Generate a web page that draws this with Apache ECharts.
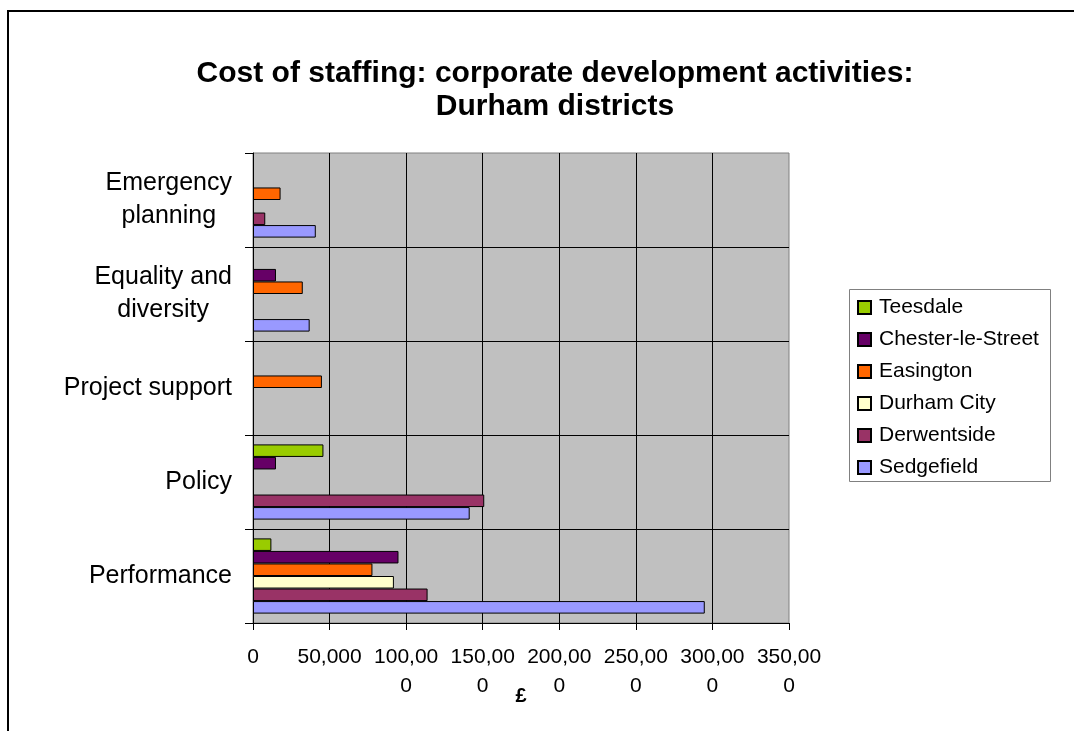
<!DOCTYPE html>
<html>
<head>
<meta charset="utf-8">
<title>Cost of staffing: corporate development activities</title>
<script src="https://cdn.jsdelivr.net/npm/echarts@6/dist/echarts.min.js"></script>
<style>
  html, body { margin: 0; padding: 0; background: #ffffff; }
  #chart { width: 1074px; height: 731px; }
</style>
</head>
<body>
<div id="chart"></div>
<script>
// Activities, listed from the bottom of the axis upwards
const categories = ['Performance', 'Policy', 'Project support', 'Equality and diversity', 'Emergency planning'];
const categoryLabels = ['Performance', 'Policy', 'Project support', 'Equality and\ndiversity', 'Emergency\nplanning'];

// Staffing cost (£) per district; null = no spend reported
const districts = ['Teesdale', 'Chester-le-Street', 'Easington', 'Durham City', 'Derwentside', 'Sedgefield'];
const teesdale        = [12000, 46000, null, null, null];
const chesterLeStreet = [95000, 15000, null, 15000, null];
const easington       = [78000, null, 45000, 32500, 18000];
const durhamCity      = [92000, null, null, null, null];
const derwentside     = [114000, 151000, null, null, 8000];
const sedgefield      = [295000, 141500, null, 37000, 41000];

const xTickLabels = ['0', '50,000', '100,000', '150,000', '200,000', '250,000', '300,000', '350,000'];

const districtColors = ['#99CC00', '#660066', '#FF6600', '#FFFFCC', '#993366', '#9999FF'];
const districtValues = [teesdale, chesterLeStreet, easington, durhamCity, derwentside, sedgefield];

const FONT = '"Liberation Sans", Arial, sans-serif';

// long tick labels wrap after six characters
function wrapTick(s) {
  return s.length > 6 ? s.slice(0, 6) + '\n' + s.slice(6) : s;
}

const chart = echarts.init(document.getElementById('chart'), null, { renderer: 'canvas' });

const series = districts.map((name, i) => ({
  name: name,
  type: 'bar',
  data: districtValues[i],
  barGap: '0%',
  barCategoryGap: '20%',
  itemStyle: { color: districtColors[i], borderColor: '#000000', borderWidth: 1 },
  emphasis: { disabled: true },
  animation: false
}));

chart.setOption({
  animation: false,
  backgroundColor: '#ffffff',
  textStyle: { fontFamily: FONT },
  title: {
    text: 'Cost of staffing: corporate development activities:\nDurham districts',
    left: 550,
    top: 52,
    textAlign: 'center',
    textStyle: { fontFamily: FONT, fontSize: 30, fontWeight: 'bold', color: '#000000', lineHeight: 33 }
  },
  graphic: [
    {
      type: 'rect', silent: true, z: -10,
      shape: { x: 8, y: 11, width: 1100, height: 800 },
      style: { fill: 'none', stroke: '#000000', lineWidth: 2 }
    },
    {
      type: 'rect', silent: true, z: -10,
      shape: { x: 849.5, y: 289.5, width: 201, height: 192 },
      style: { fill: '#ffffff', stroke: '#808080', lineWidth: 1 }
    }
  ],
  legend: {
    orient: 'vertical',
    left: 857,
    top: 297,
    padding: 0,
    itemGap: 11,
    itemWidth: 13,
    itemHeight: 13,
    icon: 'rect',
    selectedMode: false,
    data: districts,
    textStyle: { fontFamily: FONT, fontSize: 21, color: '#000000', lineHeight: 21, padding: [0, 0, 0, 3] }
  },
  grid: {
    left: 253,
    right: 285,
    top: 153,
    bottom: 108,
    show: true,
    backgroundColor: '#C0C0C0',
    borderColor: '#808080',
    borderWidth: 1,
    containLabel: false
  },
  xAxis: {
    type: 'value',
    min: 0,
    max: 350000,
    interval: 50000,
    name: '£',
    nameLocation: 'middle',
    nameGap: 63,
    nameMoveOverlap: false,
    nameTextStyle: { fontFamily: FONT, fontSize: 20, fontWeight: 'bold', color: '#000000' },
    axisLine: { show: true, lineStyle: { color: '#000000', width: 1 } },
    axisTick: { show: true, length: 7, lineStyle: { color: '#000000' } },
    splitLine: { show: true, showMinLine: false, showMaxLine: false, lineStyle: { color: '#000000', width: 1 } },
    axisLabel: {
      margin: 20,
      fontFamily: FONT,
      fontSize: 21,
      lineHeight: 29,
      color: '#000000',
      align: 'center',
      formatter: (value, index) => wrapTick(xTickLabels[index] !== undefined ? xTickLabels[index] : String(value))
    }
  },
  yAxis: {
    type: 'category',
    data: categories,
    axisLine: { show: true, lineStyle: { color: '#000000', width: 1 } },
    axisTick: { show: true, length: 8, inside: false, lineStyle: { color: '#000000' } },
    splitLine: { show: true, showMaxLine: false, lineStyle: { color: '#000000', width: 1 } },
    axisLabel: {
      margin: 21,
      align: 'right',
      color: '#000000',
      formatter: (value, index) => {
        const label = categoryLabels[categories.indexOf(value)];
        return label.split('\n').map(line => '{c|' + line + '}').join('\n');
      },
      rich: {
        c: { align: 'center', fontFamily: FONT, fontSize: 25, lineHeight: 33, color: '#000000' }
      }
    }
  },
  series: series
});
</script>
</body>
</html>
